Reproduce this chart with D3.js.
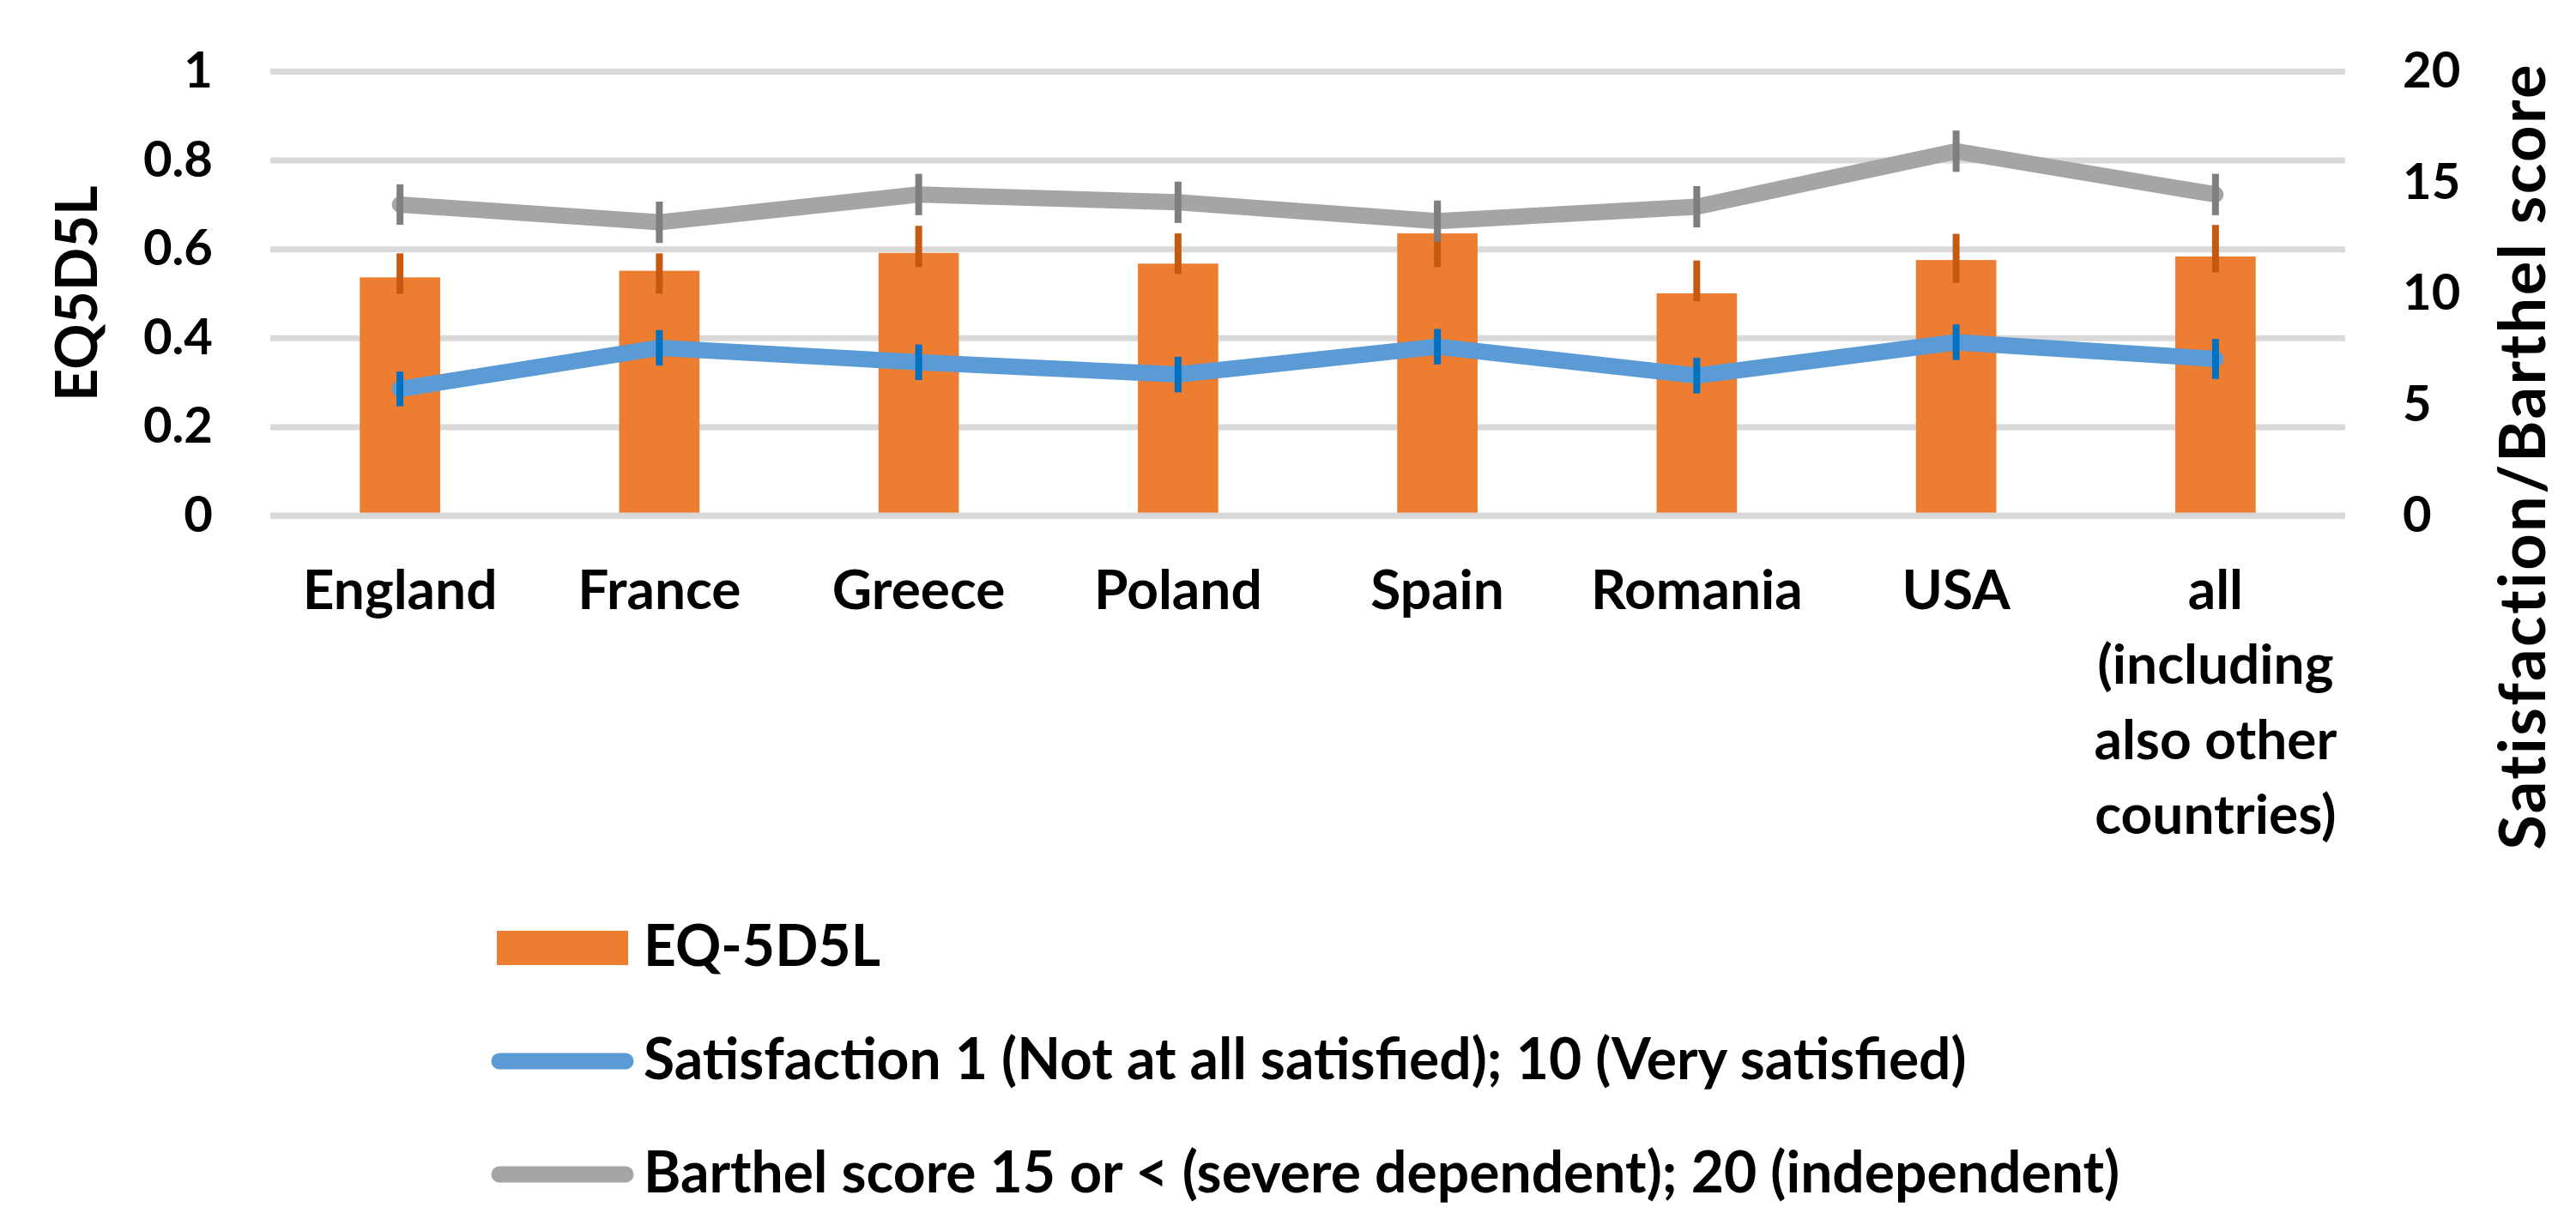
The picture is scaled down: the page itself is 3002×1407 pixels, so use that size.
<!DOCTYPE html>
<html>
<head>
<meta charset="utf-8">
<script src="https://cdn.jsdelivr.net/npm/d3@7"></script>
<style>
  body { margin: 0; background: #fff; }
  text { font-family: Lato, "Open Sans", sans-serif; font-weight: 700; fill: #000; }
</style>
</head>
<body>
<div id="chart"></div>
<script>
// values
const categories = ["England", "France", "Greece", "Poland", "Spain", "Romania", "USA",
  "all (including also other countries)"];
const eq5d5l = [0.536, 0.551, 0.591, 0.567, 0.635, 0.500, 0.575, 0.583];
const eqHigh = [0.590, 0.590, 0.652, 0.635, 0.700, 0.574, 0.634, 0.654];
const eqLow = [0.499, 0.499, 0.559, 0.544, 0.559, 0.482, 0.524, 0.547];
const satisfaction = [5.7, 7.55, 6.9, 6.35, 7.6, 6.3, 7.8, 7.05];
const satisfactionErr = [0.78, 0.8, 0.8, 0.8, 0.8, 0.8, 0.8, 0.9];
const barthel = [14.0, 13.2, 14.45, 14.1, 13.25, 13.9, 16.4, 14.45];
const barthelErr = [0.91, 0.93, 0.93, 0.93, 0.93, 0.93, 0.93, 0.93];
const leftTicks = [0, 0.2, 0.4, 0.6, 0.8, 1];
const rightTicks = [0, 5, 10, 15, 20];
const legendNames = ["EQ-5D5L",
  "Satisfaction 1 (Not at all satisfied); 10 (Very satisfied)",
  "Barthel score 15 or < (severe dependent); 20 (independent)"];

const W = 3002, H = 1407;
const margin = {top: 83, right: W - 2733, bottom: H - 601, left: 315};
const width = W - margin.left - margin.right,
  height = H - margin.top - margin.bottom;

const orange = "#ED7D31", orangeDark = "#C65911";
const blue = "#5B9BD5", blueDark = "#0070C0";
const grey = "#A5A5A5", greyDark = "#7F7F7F";

const svg = d3.select("#chart")
  .append("svg")
  .attr("width", W)
  .attr("height", H);

const g = svg.append("g")
  .attr("transform", `translate(${margin.left},${margin.top})`);

const x = d3.scaleBand()
  .domain(categories)
  .range([0, width]);
const yLeft = d3.scaleLinear().domain([0, 1]).range([height, 0]);
const yRight = d3.scaleLinear().domain([0, 20]).range([height, 0]);
const cx = (c) => x(c) + x.bandwidth() / 2;
const barW = x.bandwidth() * 0.31;

// gridlines
g.append("g")
  .call(d3.axisLeft(yLeft).tickValues(leftTicks).tickSize(-width).tickFormat(""))
  .call(a => a.select(".domain").remove())
  .selectAll("line")
  .attr("stroke", "#D9D9D9")
  .attr("stroke-width", 7);

// left axis labels
g.append("g")
  .call(d3.axisLeft(yLeft).tickValues(leftTicks).tickSize(0).tickPadding(67)
    .tickFormat(d3.format("~g")))
  .call(a => a.select(".domain").remove())
  .selectAll("text")
  .attr("font-size", 58)
  .attr("font-family", null);

// right axis labels
g.append("g")
  .attr("transform", `translate(${width},0)`)
  .call(d3.axisRight(yRight).tickValues(rightTicks).tickSize(0).tickPadding(67))
  .call(a => a.select(".domain").remove())
  .selectAll("text")
  .attr("font-size", 58)
  .attr("font-family", null);

// category labels, wrapped like Excel does
function wrap(text, maxW) {
  text.each(function() {
    const t = d3.select(this);
    const words = t.text().split(/\s+/);
    const y = t.attr("y"), dy = parseFloat(t.attr("dy"));
    t.text(null);
    let line = [], n = 0;
    let tspan = t.append("tspan").attr("x", 0).attr("y", y).attr("dy", dy + "em");
    words.forEach(w => {
      line.push(w);
      tspan.text(line.join(" "));
      if (tspan.node().getComputedTextLength() > maxW && line.length > 1) {
        line.pop();
        tspan.text(line.join(" "));
        line = [w];
        n++;
        tspan = t.append("tspan").attr("x", 0).attr("y", y)
          .attr("dy", (n * 1.36 + dy) + "em").text(w);
      }
    });
  });
}

g.append("g")
  .attr("transform", `translate(0,${height})`)
  .call(d3.axisBottom(x).tickSize(0).tickPadding(64))
  .call(a => a.select(".domain").remove())
  .selectAll("text")
  .attr("font-size", 64)
  .attr("font-family", null)
  .call(wrap, x.bandwidth());

// bars
g.selectAll(".bar")
  .data(categories)
  .enter()
  .append("rect")
  .attr("class", "bar")
  .attr("x", (d) => cx(d) - barW / 2)
  .attr("y", (d, i) => yLeft(eq5d5l[i]))
  .attr("width", barW)
  .attr("height", (d, i) => height - yLeft(eq5d5l[i]))
  .attr("fill", orange);

// category axis line over the bar feet
g.append("line")
  .attr("x1", 0).attr("x2", width)
  .attr("y1", height).attr("y2", height)
  .attr("stroke", "#D9D9D9")
  .attr("stroke-width", 7);

g.selectAll(".eqerr")
  .data(categories)
  .enter()
  .append("line")
  .attr("x1", cx).attr("x2", cx)
  .attr("y1", (d, i) => yLeft(eqHigh[i]))
  .attr("y2", (d, i) => yLeft(eqLow[i]))
  .attr("stroke", orangeDark)
  .attr("stroke-width", 8);

// lines on the right axis with their error bars
function drawLine(values, errs, color, errColor) {
  const line = d3.line()
    .x((d, i) => cx(categories[i]))
    .y((d) => yRight(d));
  g.append("path")
    .datum(values)
    .attr("d", line)
    .attr("fill", "none")
    .attr("stroke", color)
    .attr("stroke-width", 19)
    .attr("stroke-linejoin", "round")
    .attr("stroke-linecap", "round");
  g.append("g")
    .selectAll("line")
    .data(values)
    .enter()
    .append("line")
    .attr("x1", (d, i) => cx(categories[i]))
    .attr("x2", (d, i) => cx(categories[i]))
    .attr("y1", (d, i) => yRight(d + errs[i]))
    .attr("y2", (d, i) => yRight(d - errs[i]))
    .attr("stroke", errColor)
    .attr("stroke-width", 8);
}
drawLine(satisfaction, satisfactionErr, blue, blueDark);
drawLine(barthel, barthelErr, grey, greyDark);

// axis titles
svg.append("text")
  .attr("transform", "translate(113,342) rotate(-90)")
  .attr("text-anchor", "middle")
  .attr("font-size", 66)
  .text("EQ5D5L");

svg.append("text")
  .attr("transform", "translate(2966,532) rotate(-90)")
  .attr("text-anchor", "middle")
  .attr("font-size", 74)
  .attr("letter-spacing", 2.4)
  .text("Satisfaction/Barthel score");

// legend
const legend = svg.append("g");
const legendY = [1105, 1237, 1369];
legend.append("rect")
  .attr("x", 579).attr("y", legendY[0] - 20)
  .attr("width", 153).attr("height", 40)
  .attr("fill", orange);
[blue, grey].forEach((c, i) => {
  legend.append("line")
    .attr("x1", 582).attr("x2", 729)
    .attr("y1", legendY[i + 1]).attr("y2", legendY[i + 1])
    .attr("stroke", c)
    .attr("stroke-width", 19)
    .attr("stroke-linecap", "round");
});
legend.selectAll(".lt")
  .data(legendNames)
  .enter()
  .append("text")
  .attr("x", 750)
  .attr("y", (d, i) => legendY[i] + 21)
  .attr("font-size", 66)
  .text(d => d);
</script>
</body>
</html>
